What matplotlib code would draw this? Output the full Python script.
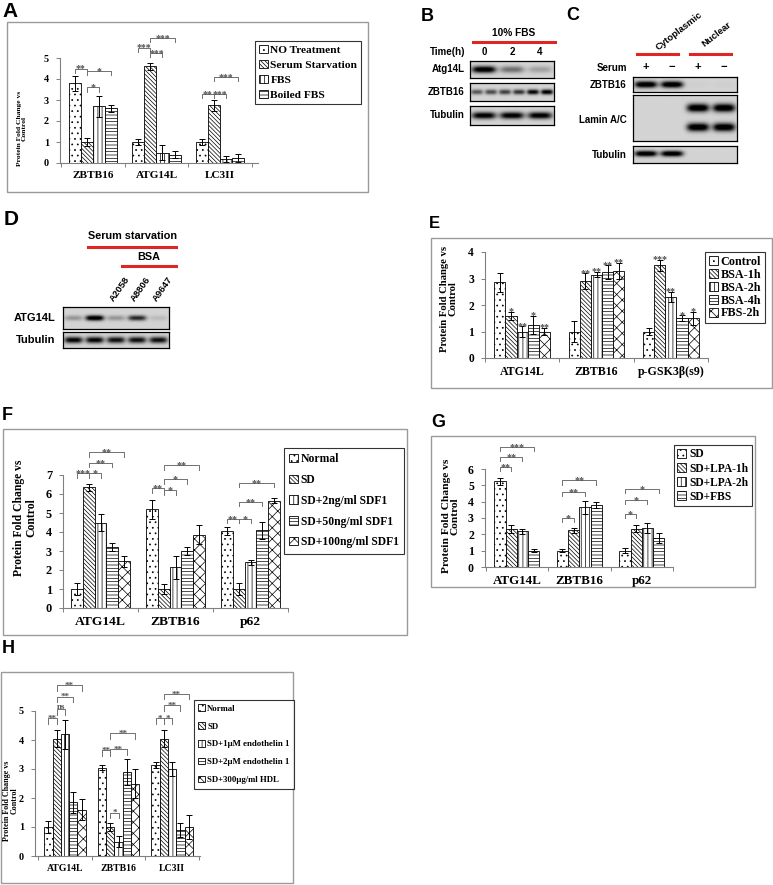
import numpy as np
import matplotlib
matplotlib.use('Agg')
import matplotlib.pyplot as plt
from matplotlib.patches import Patch, Rectangle

plt.rcParams['font.family'] = 'Liberation Serif'
plt.rcParams['font.weight'] = 'bold'
plt.rcParams['hatch.linewidth'] = 0.5

W, H = 773, 885
SANS = 'Liberation Sans'

# ---- data: panel A
a_cats = ['ZBTB16', 'ATG14L', 'LC3II']
a_series = ['NO Treatment', 'Serum Starvation', 'FBS', 'Boiled FBS']
a_vals = [[3.8, 1.0, 1.0], [1.0, 4.6, 2.75], [2.7, 0.5, 0.2], [2.6, 0.4, 0.25]]
a_errs = [[0.35, 0.15, 0.12], [0.2, 0.15, 0.25], [0.5, 0.35, 0.15], [0.15, 0.15, 0.2]]
a_sig = [(0, 0, 1, 4.5, '**'), (0, 1, 3, 4.4, '*'), (0, 1, 2, 3.6, '*'),
         (1, 0, 1, 5.5, '***'), (1, 1, 2, 5.25, '***'), (1, 1, 3, 5.95, '***'),
         (2, 0, 1, 3.3, '**'), (2, 1, 2, 3.3, '***'), (2, 1, 3, 4.1, '***')]

# ---- data: panel B (band intensities 0..1)
b_times = ['0', '2', '4']
b_atg14l = [0.95, 0.4, 0.2]
b_zbtb16 = [0.5, 0.55, 0.6, 0.65, 0.85, 0.9]
b_tubulin = [0.9, 0.9, 0.9]

# ---- data: panel C
c_serum = ['+', '−', '+', '−']
c_zbtb16 = [1.0, 1.0, 0.02, 0.02]
c_lamin_up = [0.0, 0.0, 1.0, 1.0]
c_lamin_low = [0.0, 0.0, 1.0, 1.0]
c_tubulin = [1.0, 1.0, 0.0, 0.0]

# ---- data: panel D
d_lanes = ['A2058', 'A8806', 'A9647']
d_atg14l = [0.25, 1.0, 0.25, 0.7, 0.1]
d_tubulin = [0.85, 0.85, 0.8, 0.8, 0.8]

# ---- data: panel E
e_cats = ['ATG14L', 'ZBTB16', 'p-GSK3β(s9)']
e_series = ['Control', 'BSA-1h', 'BSA-2h', 'BSA-4h', 'FBS-2h']
e_vals = [[2.85, 1.0, 1.0], [1.6, 2.9, 3.5], [1.0, 3.15, 2.3], [1.25, 3.25, 1.5], [1.0, 3.3, 1.5]]
e_errs = [[0.35, 0.4, 0.12], [0.15, 0.3, 0.2], [0.2, 0.1, 0.2], [0.35, 0.25, 0.12], [0.15, 0.3, 0.25]]
e_stars = [['', '', ''], ['*', '**', '***'], ['**', '**', '**'], ['*', '**', '*'], ['**', '**', '*']]

# ---- data: panel F
f_cats = ['ATG14L', 'ZBTB16', 'p62']
f_series = ['Normal', 'SD', 'SD+2ng/ml SDF1', 'SD+50ng/ml SDF1', 'SD+100ng/ml SDF1']
f_vals = [[1.0, 5.2, 4.05], [6.35, 1.0, 1.0], [4.5, 2.15, 2.4], [3.2, 3.0, 4.1], [2.45, 3.85, 5.65]]
f_errs = [[0.3, 0.5, 0.2], [0.2, 0.25, 0.3], [0.45, 0.6, 0.15], [0.2, 0.2, 0.45], [0.3, 0.5, 0.15]]
f_sig = [(0, 0, 1, 7.1, '***'), (0, 1, 2, 7.1, '*'), (0, 1, 3, 7.65, '**'), (0, 1, 4, 8.2, '**'),
         (1, 0, 1, 6.3, '**'), (1, 1, 2, 6.2, '*'), (1, 1, 3, 6.8, '*'), (1, 1, 4, 7.5, '**'),
         (2, 0, 1, 4.7, '**'), (2, 1, 2, 4.7, '*'), (2, 1, 3, 5.6, '**'), (2, 1, 4, 6.6, '**')]

# ---- data: panel G
g_cats = ['ATG14L', 'ZBTB16', 'p62']
g_series = ['SD', 'SD+LPA-1h', 'SD+LPA-2h', 'SD+FBS']
g_vals = [[5.25, 1.0, 1.0], [2.35, 2.25, 2.35], [2.2, 3.65, 2.4], [1.0, 3.8, 1.8]]
g_errs = [[0.2, 0.1, 0.15], [0.25, 0.15, 0.2], [0.15, 0.4, 0.3], [0.1, 0.2, 0.3]]
g_sig = [(0, 0, 1, 6.1, '**'), (0, 0, 2, 6.75, '**'), (0, 0, 3, 7.35, '***'),
         (1, 0, 1, 3.0, '*'), (1, 0, 2, 4.6, '**'), (1, 0, 3, 5.3, '**'),
         (2, 0, 1, 3.25, '*'), (2, 0, 2, 4.1, '*'), (2, 0, 3, 4.8, '*')]

# ---- data: panel H
h_cats = ['ATG14L', 'ZBTB16', 'LC3II']
h_series = ['Normal', 'SD', 'SD+1µM endothelin 1', 'SD+2µM endothelin 1', 'SD+300µg/ml HDL']
h_vals = [[1.0, 3.05, 3.15], [4.05, 1.0, 4.05], [4.2, 0.5, 3.0], [1.85, 2.9, 0.9], [1.6, 2.5, 1.0]]
h_errs = [[0.2, 0.1, 0.1], [0.3, 0.15, 0.3], [0.5, 0.2, 0.25], [0.35, 0.45, 0.25], [0.35, 0.5, 0.4]]
h_sig = [(0, 0, 1, 4.75, '**'), (0, 1, 2, 5.07, 'ns'), (0, 1, 3, 5.5, '**'), (0, 1, 4, 5.9, '**'),
         (1, 0, 1, 3.65, '**'), (1, 1, 3, 3.7, '**'), (1, 1, 4, 4.25, '**'), (1, 1, 2, 1.5, '*'),
         (2, 0, 1, 4.75, '*'), (2, 1, 2, 4.75, '*'), (2, 1, 3, 5.2, '**'), (2, 1, 4, 5.6, '**')]

HATCH5 = ['...', '\\\\\\\\\\\\\\\\', '||||', '-----', 'xxx']
HATCH4 = HATCH5[:4]

fig = plt.figure(figsize=(W / 100, H / 100), dpi=100)


def fx(x):
    return x / W


def fy(y):
    return 1 - y / H


def px_axes(l, t, r, b):
    return fig.add_axes([l / W, 1 - b / H, (r - l) / W, (b - t) / H])


def frame(l, t, r, b):
    fig.patches.append(Rectangle((fx(l), fy(b)), (r - l) / W, (b - t) / H, transform=fig.transFigure,
                                 fill=False, edgecolor='#9a9a9a', lw=1.0))


def letter(x, y, s, size):
    fig.text(fx(x), fy(y), s, ha='left', va='top', fontsize=size, family=SANS, weight='bold')


def bar_panel(l, t, r, b, cats, vals, errs, hatches, ymax, width, xlim, tick_fs, cat_fs):
    ax = px_axes(l, t, r, b)
    n = len(vals)
    xc = np.arange(len(cats))
    pos = []
    for i in range(n):
        x = xc + (i - (n - 1) / 2) * width
        ax.bar(x, vals[i], width, yerr=errs[i], color='white', edgecolor='black', hatch=hatches[i],
               linewidth=0.6, error_kw=dict(elinewidth=0.7, capsize=2, capthick=0.7, ecolor='black'))
        pos.append(x)
    ax.set_xlim(*xlim)
    ax.set_ylim(0, ymax)
    ax.set_yticks(range(ymax + 1))
    ax.set_xticks(xc)
    ax.set_xticklabels(cats, fontsize=cat_fs)
    ax.set_xticks([-0.5, 0.5, 1.5, 2.5], minor=True)
    ax.tick_params(axis='x', which='major', length=0, pad=6)
    ax.tick_params(axis='x', which='minor', length=3, width=0.7, color='#808080')
    ax.tick_params(axis='y', length=3, width=0.7, color='#808080', labelsize=tick_fs, pad=5)
    for s in ['top', 'right']:
        ax.spines[s].set_visible(False)
    for s in ['left', 'bottom']:
        ax.spines[s].set_color('#808080')
        ax.spines[s].set_linewidth(0.8)
    ax.patch.set_alpha(0)
    return ax, pos


def brackets(ax, pos, sig, drop, fs):
    for c, i, j, y, txt in sig:
        x1, x2 = pos[i][c], pos[j][c]
        ax.plot([x1, x1, x2, x2], [y - drop, y, y, y - drop], color='#707070', lw=0.7, clip_on=False)
        off = -fs * 0.3 if '*' in txt else 0.3
        ax.annotate(txt, xy=((x1 + x2) / 2, y), xytext=(0, off), textcoords='offset points',
                    ha='center', va='baseline', fontsize=fs, color='#505050', annotation_clip=False)


def legend(names, hatches, x, y, fs, spacing, pad=0.35):
    hs = [Patch(facecolor='white', edgecolor='black', hatch=h, lw=0.6) for h in hatches]
    lg = fig.legend(hs, names, loc='upper left', bbox_to_anchor=(fx(x), fy(y)), frameon=True,
                    fancybox=False, edgecolor='black', prop=dict(size=fs, weight='bold'),
                    handlelength=0.75, handleheight=0.75, handletextpad=0.25,
                    labelspacing=spacing, borderpad=pad, borderaxespad=0)
    lg.get_frame().set_linewidth(0.8)


def ylab(x, y, fs):
    fig.text(fx(x), fy(y), 'Protein Fold Change vs\nControl', rotation=90, ha='center', va='center',
             multialignment='center', fontsize=fs, linespacing=1.0)


def blot(l, t, r, b, rows, bg=0.17):
    ax = px_axes(l, t, r, b)
    nx, ny = 240, 60
    X, Y = np.meshgrid((np.arange(nx) + 0.5) / nx, (np.arange(ny) + 0.5) / ny)
    img = np.full((ny, nx), bg)
    for cy, sy, inten in rows:
        n = len(inten)
        sx = 0.43 / n
        for k, v in enumerate(inten):
            cx = (k + 0.5) / n
            img += v * np.exp(-((X - cx) / sx) ** 4) * np.exp(-((Y - cy) / sy) ** 2)
    ax.imshow(np.clip(img, 0, 1), cmap='gray_r', vmin=0, vmax=1, extent=[0, 1, 0, 1],
              aspect='auto', interpolation='bilinear', origin='lower')
    ax.set_xticks([])
    ax.set_yticks([])
    for s in ax.spines.values():
        s.set_linewidth(0.9)
    return ax


def redline(x1, x2, y):
    fig.add_artist(plt.Line2D([fx(x1), fx(x2)], [fy(y), fy(y)], color='#e02525', lw=2.2))


def stext(x, y, s, fs, ha='center', rot=0):
    fig.text(fx(x), fy(y), s, ha=ha, va='center', fontsize=fs, family=SANS, weight='bold',
             rotation=rot)


# ================= A =================
letter(2, 2, 'A', 15)
frame(7, 22, 368, 192)
axA, posA = bar_panel(60, 58, 258, 163, a_cats, a_vals, a_errs, HATCH4, 5, 0.19, (-0.52, 2.6), 7.3, 8.1)
brackets(axA, posA, a_sig, 0.2, 7)
legend(a_series, HATCH4, 255, 41, 8.2, 0.42)
ylab(22, 128, 5.4)

# ================= B =================
letter(421, 8, 'B', 13)
stext(514, 33, '10% FBS', 7.3)
redline(473, 555, 42)
stext(465, 52, 'Time(h)', 7, ha='right')
for k, t in enumerate(b_times):
    stext(470 + (k + 0.5) * 84 / 3, 52, t, 7)
blot(470, 61, 554, 78, [(0.5, 0.2, b_atg14l)])
blot(470, 83, 554, 101, [(0.5, 0.14, b_zbtb16)])
blot(470, 106, 554, 125, [(0.5, 0.18, b_tubulin)])
stext(465, 69.5, 'Atg14L', 7, ha='right')
stext(465, 92, 'ZBTB16', 7, ha='right')
stext(465, 115.5, 'Tubulin', 7, ha='right')

# ================= C =================
letter(566, 7, 'C', 13)
stext(679, 31, 'Cytoplasmic', 6.8, rot=38)
stext(717, 34, 'Nuclear', 6.8, rot=38)
redline(637, 678, 54)
redline(690, 731, 54)
stext(627, 68, 'Serum', 7, ha='right')
for k, s in enumerate(c_serum):
    stext(633 + (k + 0.5) * 104 / 4, 67, s, 8)
blot(633, 77, 737, 92, [(0.5, 0.22, c_zbtb16)])
blot(633, 95, 737, 141, [(0.72, 0.09, c_lamin_up), (0.3, 0.09, c_lamin_low)])
blot(633, 146, 737, 163, [(0.55, 0.17, c_tubulin)])
stext(627, 84.5, 'ZBTB16', 7, ha='right')
stext(627, 120, 'Lamin A/C', 7, ha='right')
stext(627, 155, 'Tubulin', 7, ha='right')

# ================= D =================
letter(4, 210, 'D', 15)
stext(133, 236, 'Serum starvation', 7.8)
redline(88, 176, 247)
stext(149, 257, 'BSA', 7.8)
redline(122, 176, 266)
for k, s in enumerate(d_lanes):
    fig.text(fx(63 + (k + 2.5) * 106 / 5 - 4), fy(301), s, ha='left', va='center', fontsize=6.8,
             family=SANS, weight='bold', rotation=55, rotation_mode='anchor')
blot(63, 307, 169, 329, [(0.5, 0.12, d_atg14l)])
blot(63, 332, 169, 348, [(0.5, 0.2, d_tubulin)])
stext(55, 318, 'ATG14L', 8, ha='right')
stext(55, 340, 'Tubulin', 8, ha='right')

# ================= E =================
letter(429, 216, 'E', 12)
frame(431, 238, 772, 388)
axE, posE = bar_panel(485, 252, 708, 358, e_cats, e_vals, e_errs, HATCH5, 4, 0.15, (-0.49, 2.48), 8.3, 8.6)
for i in range(len(e_series)):
    for c in range(len(e_cats)):
        if e_stars[i][c]:
            axE.annotate(e_stars[i][c], xy=(posE[i][c], e_vals[i][c] + e_errs[i][c]), xytext=(0, -1.8),
                         textcoords='offset points', ha='center', va='baseline', fontsize=7.2,
                         color='#505050', annotation_clip=False)
legend(e_series, HATCH5, 705, 252, 8.7, 0.08, pad=0.3)
ylab(449, 299, 7.7)

# ================= F =================
letter(2, 407, 'F', 13)
frame(3, 429, 407, 635)
axF, posF = bar_panel(63, 475, 288, 608, f_cats, f_vals, f_errs, HATCH5, 7, 0.156, (-0.49, 2.5), 8.8, 9.7)
brackets(axF, posF, f_sig, 0.25, 7.2)
legend(f_series, HATCH5, 284, 448, 8.4, 0.75, pad=0.45)
ylab(25, 518, 8.4)

# ================= G =================
letter(431, 414, 'G', 13)
frame(431, 436, 755, 587)
axG, posG = bar_panel(485, 469, 673, 567, g_cats, g_vals, g_errs, HATCH4, 6, 0.18, (-0.51, 2.48), 8.5, 9.4)
brackets(axG, posG, g_sig, 0.25, 7.2)
legend(g_series, HATCH4, 674, 445, 8.3, 0.18, pad=0.3)
ylab(451, 516, 8.2)

# ================= H =================
letter(2, 640, 'H', 13)
frame(1, 672, 293, 883)
axH, posH = bar_panel(35, 711, 200, 856, h_cats, h_vals, h_errs, HATCH5, 5, 0.155, (-0.56, 2.52), 7.3, 7.0)
brackets(axH, posH, h_sig, 0.2, 6.5)
legend(h_series, HATCH5, 194, 700, 6.3, 1.1, pad=0.5)
ylab(11, 801, 5.8)

fig.savefig('out.png', dpi=100)
